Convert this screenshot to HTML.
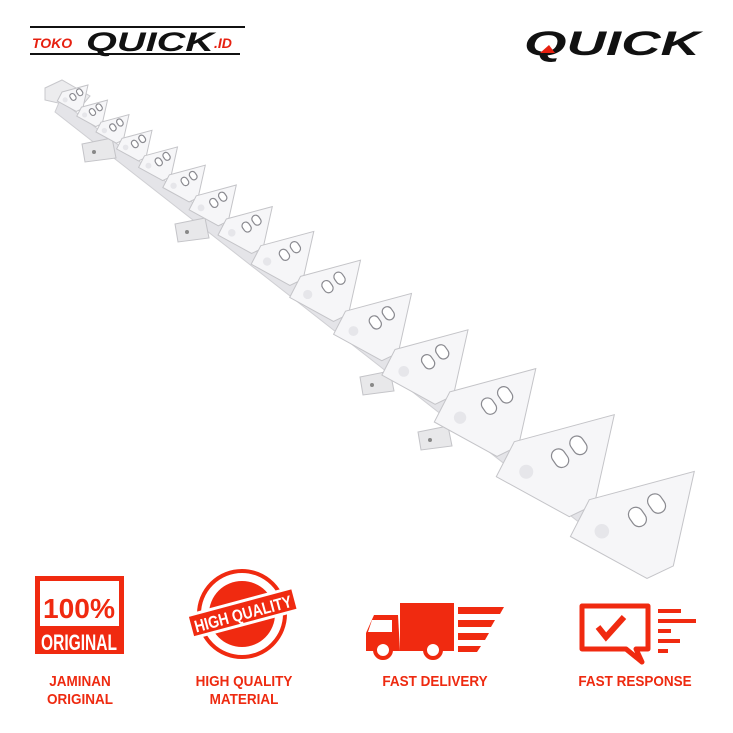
<!DOCTYPE html><html><head><style>
body{margin:0;width:733px;height:733px;background:#fff;overflow:hidden;font-family:"Liberation Sans",sans-serif}
.lbl{position:absolute;color:#ee2a10;font-weight:bold;font-size:15px;text-align:center;line-height:18px;transform:scaleX(.9)}
</style></head><body>
<svg id="s" width="733" height="733" style="position:absolute;left:0;top:0">
<rect x="30" y="26" width="215" height="2" fill="#111"/>
<rect x="30" y="53" width="210" height="2" fill="#111"/>
<text x="32" y="48" font-size="14" font-weight="bold" font-style="italic" fill="#e62010" font-family="Liberation Sans">TOKO</text>
<text x="86" y="51" font-size="27" font-weight="bold" font-style="italic" fill="#111" font-family="Liberation Sans" textLength="128" lengthAdjust="spacingAndGlyphs">QUICK</text>
<text x="214" y="48" font-size="14" font-weight="bold" font-style="italic" fill="#e62010" font-family="Liberation Sans">.ID</text>
<text x="524" y="55" font-size="34" font-weight="bold" font-style="italic" fill="#111" font-family="Liberation Sans" textLength="176" lengthAdjust="spacingAndGlyphs">QUICK</text>
<polygon points="540,53 549,45 555,53" fill="#e62010"/>
<g id="blade"></g>
<rect x="35" y="576" width="89" height="78" fill="#f02a10"/>
<rect x="40" y="581" width="79" height="45" fill="#fff"/>
<text x="79" y="618" font-size="28" font-weight="bold" fill="#f02a10" text-anchor="middle" textLength="72" lengthAdjust="spacingAndGlyphs">100%</text>
<text x="79" y="650" font-size="22" font-weight="bold" fill="#fff" text-anchor="middle" textLength="76" lengthAdjust="spacingAndGlyphs">ORIGINAL</text>
<circle cx="242" cy="614" r="43" fill="none" stroke="#f02a10" stroke-width="4"/>
<circle cx="242" cy="614" r="33" fill="#f02a10"/>
<g transform="rotate(-15 242 614)"><rect x="187" y="600" width="112" height="26" fill="#fff"/><rect x="190" y="603" width="106" height="20" fill="#f02a10"/><text x="243" y="620" font-size="17" font-weight="bold" fill="#fff" text-anchor="middle" textLength="100" lengthAdjust="spacingAndGlyphs">HIGH QUALITY</text></g>
<rect x="400" y="603" width="54" height="48" fill="#f02a10"/>
<path d="M398 615 H374 L366 633 V651 H400 Z" fill="#f02a10"/>
<path d="M372 620 H392 V632 H368 Z" fill="#fff"/>
<circle cx="383" cy="650" r="8" fill="#fff" stroke="#f02a10" stroke-width="4"/>
<circle cx="433" cy="650" r="8" fill="#fff" stroke="#f02a10" stroke-width="4"/>
<polygon points="458,607 504,607 500,614 458,614" fill="#f02a10"/>
<polygon points="458,620 495,620 491,627 458,627" fill="#f02a10"/>
<polygon points="458,633 489,633 485,640 458,640" fill="#f02a10"/>
<polygon points="458,646 481,646 477,652 458,652" fill="#f02a10"/>
<path d="M582 606 H648 V649 H636 L642 662 L626 649 H582 Z" fill="none" stroke="#f02a10" stroke-width="5" stroke-linejoin="round"/>
<path d="M598 627 L606 637 L624 617" fill="none" stroke="#f02a10" stroke-width="6"/>
<rect x="658" y="609" width="23" height="4" fill="#f02a10"/>
<rect x="658" y="619" width="38" height="4" fill="#f02a10"/>
<rect x="658" y="629" width="13" height="4" fill="#f02a10"/>
<rect x="658" y="639" width="22" height="4" fill="#f02a10"/>
<rect x="658" y="649" width="10" height="4" fill="#f02a10"/>
</svg>
<div class="lbl" style="left:20px;top:673px;width:120px">JAMINAN<br>ORIGINAL</div>
<div class="lbl" style="left:180px;top:673px;width:128px">HIGH QUALITY<br>MATERIAL</div>
<div class="lbl" style="left:365px;top:673px;width:140px">FAST DELIVERY</div>
<div class="lbl" style="left:560px;top:673px;width:150px">FAST RESPONSE</div>
<script>
var g=document.getElementById('blade'),h='';
function P(a){return a.map(function(p){return p[0].toFixed(1)+','+p[1].toFixed(1)}).join(' ');}
h+='<polygon points="45,88 62,80 90,96 80,108 45,100" fill="#ececee" stroke="#c8c8cc"/>';
h+='<polygon points="60,100 630,540 640,570 55,112" fill="#e4e4e8" stroke="#cfcfd3"/>';
var br=[[82,152],[175,232],[360,385],[418,440]];
br.forEach(function(b){var x=b[0],y=b[1];h+='<polygon points="'+x+','+(y-8)+' '+(x+30)+','+(y-14)+' '+(x+34)+','+(y+6)+' '+(x+3)+','+(y+10)+'" fill="#e8e8ea" stroke="#c4c4c8"/><circle cx="'+(x+12)+'" cy="'+(y)+'" r="2" fill="#888"/>';});
var S=[26,26,28,30,33,36,40,46,53,60,66,73,86,100,105];
var p=[62,92];
for(var i=0;i<S.length;i++){var s=S[i];
var A=[p[0]+s,p[1]-0.27*s],B=[p[0]+0.8*s,p[1]+0.63*s],C=[B[0]-0.25*s,B[1]+0.12*s],D=[p[0]-0.18*s,p[1]+0.35*s];
h+='<polygon points="'+P([p,A,B,C,D])+'" fill="#f6f6f8" stroke="#c4c4c8" stroke-width="1"/>';
var cx=p[0]+0.55*s,cy=p[1]+0.1*s,r=s*0.06+1;
h+='<g transform="rotate(-35 '+cx+' '+cy+')"><rect x="'+(cx-r*2.6)+'" y="'+(cy-r*1.4)+'" width="'+(r*2)+'" height="'+(r*2.8)+'" rx="'+r+'" fill="#fff" stroke="#8a8a90" stroke-width="1.2"/><rect x="'+(cx+r*0.6)+'" y="'+(cy-r*1.4)+'" width="'+(r*2)+'" height="'+(r*2.8)+'" rx="'+r+'" fill="#fff" stroke="#8a8a90" stroke-width="1.2"/></g>';
h+='<circle cx="'+(p[0]+0.12*s)+'" cy="'+(p[1]+0.3*s)+'" r="'+(s*0.06+1)+'" fill="#e6e6ea"/>';
p=[B[0]-0.05*s,B[1]-0.05*s];}
g.innerHTML=h;
</script>
</body></html>
